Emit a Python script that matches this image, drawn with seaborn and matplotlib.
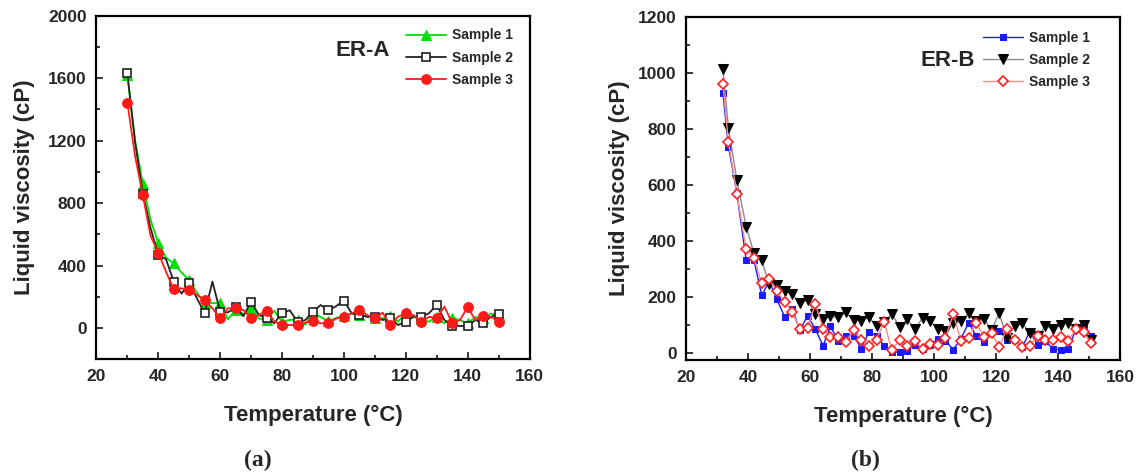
import matplotlib
matplotlib.use('Agg')
import matplotlib.pyplot as plt
import seaborn as sns
from matplotlib.ticker import MultipleLocator

sns.set_theme(style='ticks')
plt.rcParams['font.family'] = ['Liberation Sans', 'DejaVu Sans']
plt.rcParams['font.weight'] = 'bold'

# (a) ER-A : measured every 2.5 degC, markers on every 5 degC
temp_a = [30, 32.5, 35, 37.5, 40, 42.5, 45, 47.5, 50, 52.5, 55, 57.5, 60, 62.5, 65,
          67.5, 70, 72.5, 75, 77.5, 80, 82.5, 85, 87.5, 90, 92.5, 95, 97.5, 100,
          102.5, 105, 107.5, 110, 112.5, 115, 117.5, 120, 122.5, 125, 127.5, 130,
          132.5, 135, 137.5, 140, 142.5, 145, 147.5, 150]
era_s1 = [1620, 1200, 923, 692, 543, 450, 413, 355, 306, 225, 160, 160, 158, 55, 115,
          90, 128, 60, 51, 110, 41, 52, 51, 20, 100, 70, 43, 65, 75,
          92, 86, 72, 62, 62, 79, 41, 94, 70, 56, 40, 72,
          30, 66, 50, 30, 70, 62, 92, 83]
era_s2 = [1630, 1190, 860, 640, 468, 440, 297, 220, 285, 190, 94, 297, 104, 100, 135,
          75, 169, 83, 65, 30, 97, 113, 41, 50, 105, 147, 112, 140, 175,
          94, 83, 72, 72, 51, 62, 19, 41, 72, 72, 94, 148,
          51, 13, 13, 13, 51, 30, 72, 89]
era_s3 = [1444, 1100, 852, 590, 483, 360, 248, 254, 244, 212, 179, 126, 62, 126, 126,
          115, 62, 83, 111, 41, 19, 19, 19, 34, 45, 30, 30, 60, 72,
          94, 115, 83, 62, 98, 19, 72, 94, 83, 36, 72, 62,
          137, 30, 51, 133, 51, 77, 72, 41]

# (b) ER-B
temp_b = [31.8, 33.6, 36.3, 39.3, 41.8, 44.3, 46.8, 49.2, 51.7, 54.2, 56.6, 59.1,
          61.6, 64.1, 66.5, 69.0, 71.5, 74.0, 76.4, 78.9, 81.4, 83.8, 86.3, 88.8,
          91.3, 93.7, 96.2, 98.7, 101.2, 103.6, 106.1, 108.6, 111.1, 113.5, 116.0,
          118.5, 120.9, 123.4, 125.9, 128.4, 130.8, 133.3, 135.8, 138.3, 140.7,
          143.2, 145.7, 148.2, 150.6]
erb_s1 = [929, 738, 571, 333, 333, 207, 256, 192, 130, 157, 81, 133, 86, 26, 95,
          44, 62, 62, 16, 75, 62, 25, 3, 3, 8, 30, 13, 30, 50, 44, 12, 51, 109,
          60, 38, 86, 80, 48, 45, 21, 77, 30, 44, 14, 12, 14, 86, 101, 62]
erb_s2 = [1015, 804, 619, 452, 357, 331, 245, 244, 222, 210, 179, 189, 138, 123, 131,
          128, 145, 117, 116, 129, 95, 110, 141, 93, 121, 86, 125, 113, 86, 77,
          107, 113, 143, 113, 121, 83, 143, 54, 95, 107, 71, 60, 95, 86, 101,
          107, 86, 101, 48]
erb_s3 = [961, 753, 570, 371, 340, 250, 264, 220, 184, 145, 86, 89, 176, 86, 59,
          59, 41, 81, 45, 26, 48, 111, 10, 48, 26, 44, 13, 32, 27, 54, 140, 43,
          55, 109, 56, 70, 20, 87, 45, 21, 26, 60, 48, 46, 56, 44, 85, 74, 36]
labels = ['Sample 1', 'Sample 2', 'Sample 3']

fig = plt.figure(figsize=(11.41, 4.74), dpi=100)
ax1 = fig.add_axes([0.0845, 0.2422, 0.3796, 0.7247])
ax2 = fig.add_axes([0.6015, 0.2405, 0.3804, 0.723])

# ER-A
sns.lineplot(x=temp_a, y=era_s1, ax=ax1, color='#00e000', lw=1.3, marker='^', ms=7.5,
             mec='#00e000', mfc='#00e000', markevery=2, label=labels[0])
sns.lineplot(x=temp_a, y=era_s2, ax=ax1, color='#222222', lw=1.3, marker='s', ms=5.5,
             mec='#222222', mfc='white', mew=1.2, markevery=2, label=labels[1])
sns.lineplot(x=temp_a, y=era_s3, ax=ax1, color='#ff1a1a', lw=1.3, marker='o', ms=7,
             mec='#ff1a1a', mfc='#ff1a1a', markevery=2, label=labels[2])

# ER-B
sns.lineplot(x=temp_b, y=erb_s1, ax=ax2, color='#1a1aff', lw=1.0, marker='s', ms=5,
             mec='#1a1aff', mfc='#1a1aff', label=labels[0])
sns.lineplot(x=temp_b, y=erb_s2, ax=ax2, color='#8c8c8c', lw=1.0, marker='v', ms=6.5,
             mec='black', mfc='black', label=labels[1])
sns.lineplot(x=temp_b, y=erb_s3, ax=ax2, color='#ff8a8a', lw=1.0, marker='D', ms=5,
             mec='#ff2020', mfc='white', mew=1.2, label=labels[2])

for ax, ylpad in ((ax1, 9), (ax2, 6)):
    ax.set_xlim(20, 160)
    ax.xaxis.set_major_locator(MultipleLocator(20))
    ax.xaxis.set_minor_locator(MultipleLocator(10))
    ax.tick_params(which='both', direction='in', top=False, right=False, width=1.3,
                   labelsize=12.5, pad=7)
    ax.tick_params(which='major', length=5)
    ax.tick_params(which='minor', length=3)
    for sp in ax.spines.values():
        sp.set_linewidth(1.6)
        sp.set_color('black')
    for lab in ax.get_xticklabels() + ax.get_yticklabels():
        lab.set_fontweight('bold')
    ax.set_xlabel('Temperature (°C)', fontsize=16, fontweight='bold', labelpad=15)
    ax.set_ylabel('Liquid viscosity (cP)', fontsize=16, fontweight='bold', labelpad=ylpad)

ax1.set_ylim(-200, 2000)
ax1.yaxis.set_major_locator(MultipleLocator(400))
ax1.yaxis.set_minor_locator(MultipleLocator(200))
ax2.set_ylim(-25, 1200)
ax2.yaxis.set_major_locator(MultipleLocator(200))
ax2.yaxis.set_minor_locator(MultipleLocator(100))

ax1.text(0.551, 0.90, 'ER-A', transform=ax1.transAxes, fontsize=16,
         fontweight='bold', ha='left', va='center')
ax2.text(0.540, 0.875, 'ER-B', transform=ax2.transAxes, fontsize=16,
         fontweight='bold', ha='left', va='center')

leg_kw = dict(frameon=False, loc='upper left', borderpad=0, borderaxespad=0,
              handlelength=2.9, handletextpad=0.4, labelspacing=0.6,
              prop={'weight': 'bold', 'size': 10})
ax1.legend(bbox_to_anchor=(0.715, 0.963), **leg_kw)
ax2.legend(bbox_to_anchor=(0.684, 0.961), **leg_kw)

fig.text(258 / 1141, 1 - 460 / 474, '(a)', family='Liberation Serif', fontsize=17,
         fontweight='bold', ha='center', va='center')
fig.text(865 / 1141, 1 - 460 / 474, '(b)', family='Liberation Serif', fontsize=17,
         fontweight='bold', ha='center', va='center')

fig.savefig('out.png', dpi=100)
